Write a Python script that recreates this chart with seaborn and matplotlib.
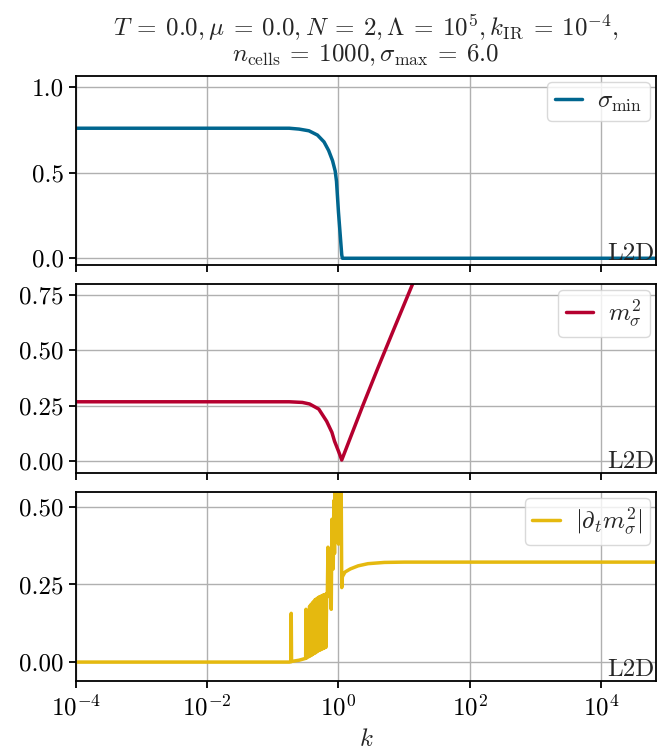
import numpy as np
import matplotlib
matplotlib.use("Agg")
import matplotlib.pyplot as plt
import seaborn as sns

# --- data: log10(k) positions and flow observables -------------------------
logk_sigma = [-4.0, -0.75, -0.60, -0.45, -0.32, -0.22, -0.15, -0.09, -0.05,
              -0.03, 0.0, 0.03, 0.05, 0.06, 4.84]
sigma_min = [0.760, 0.760, 0.755, 0.745, 0.72, 0.68, 0.63, 0.57, 0.51,
             0.45, 0.27, 0.12, 0.02, 0.0, 0.0]

logk_mass = [-4.0, -0.75, -0.55, -0.44, -0.30, -0.18, -0.10, -0.06, 0.0,
             0.05, 0.20, 0.37, 0.60, 0.85, 1.13, 1.25]
m2_sigma = [0.268, 0.268, 0.265, 0.258, 0.235, 0.18, 0.13, 0.09, 0.045,
            0.005, 0.12, 0.25, 0.42, 0.60, 0.80, 0.89]

logk_flow = [-4.0, -0.75, -0.725, -0.72, -0.715, -0.60, -0.50, -0.495, -0.49,
             -0.45, -0.44, -0.43, -0.42, -0.41, -0.40, -0.39, -0.38, -0.37,
             -0.36, -0.35, -0.34, -0.33, -0.32, -0.31, -0.30, -0.29, -0.28,
             -0.27, -0.26, -0.25, -0.24, -0.23, -0.22, -0.21, -0.20, -0.19,
             -0.18, -0.17, -0.16, -0.15, -0.13, -0.11, -0.10, -0.08, -0.07,
             -0.06, -0.05, -0.04, -0.03, -0.02, -0.01, 0.0, 0.015, 0.03, 0.04,
             0.05, 0.06, 0.10, 0.18, 0.30, 0.45, 0.70, 1.0, 4.84]
dt_m2 = [0.0, 0.0, 0.001, 0.157, 0.002, 0.006, 0.012, 0.17, 0.013,
         0.018, 0.18, 0.02, 0.185, 0.022, 0.19, 0.025, 0.195, 0.028,
         0.20, 0.03, 0.203, 0.033, 0.206, 0.036, 0.209, 0.038, 0.211,
         0.04, 0.213, 0.042, 0.215, 0.044, 0.217, 0.046, 0.218, 0.048,
         0.22, 0.21, 0.37, 0.22, 0.30, 0.17, 0.46, 0.30, 0.52,
         0.35, 0.60, 0.40, 0.62, 0.45, 0.60, 0.38, 0.62, 0.45, 0.62,
         0.24, 0.275, 0.29, 0.30, 0.31, 0.317, 0.321, 0.322, 0.322]

x_ticks = [1e-4, 1e-2, 1e0, 1e2, 1e4]

# --- style ------------------------------------------------------------------
FS = 18
sns.set_theme(style="whitegrid")
plt.rcParams.update({
    "font.family": "serif",
    "font.serif": ["cmr10"],
    "mathtext.fontset": "cm",
    "axes.unicode_minus": False,
    "axes.formatter.use_mathtext": True,
    "axes.edgecolor": "black",
    "axes.linewidth": 1.3,
    "xtick.bottom": True,
    "ytick.left": True,
    "xtick.direction": "out",
    "ytick.direction": "out",
    "xtick.major.size": 5,
    "ytick.major.size": 5,
    "xtick.major.width": 1.3,
    "ytick.major.width": 1.3,
    "xtick.major.pad": 5,
    "ytick.major.pad": 4,
    "xtick.color": "black",
    "ytick.color": "black",
    "grid.color": "#b0b0b0",
    "grid.linewidth": 1.0,
    "font.size": FS,
    "xtick.labelsize": FS,
    "ytick.labelsize": FS,
    "legend.fontsize": FS,
    "axes.labelsize": FS,
})

fig, axes = plt.subplots(3, 1, figsize=(6.67, 7.53), dpi=100, sharex=True)
fig.subplots_adjust(left=0.114, right=0.9835, top=0.899, bottom=0.0956,
                    hspace=0.1)

panels = [
    (logk_sigma, sigma_min, "#00668F", r"$\sigma_{\mathrm{min}}$",
     (-0.04, 1.065), [0.0, 0.5, 1.0], "{:.1f}"),
    (logk_mass, m2_sigma, "#B5002F", r"$m_\sigma^2$",
     (-0.054, 0.80), [0.0, 0.25, 0.5, 0.75], "{:.2f}"),
    (logk_flow, dt_m2, "#E5B90F", r"$|\partial_t m_\sigma^2|$",
     (-0.061, 0.548), [0.0, 0.25, 0.5], "{:.2f}"),
]

for ax, (lk, vals, color, label, ylim, yt, fmt) in zip(axes, panels):
    k = np.power(10.0, np.asarray(lk, dtype=float))
    sns.lineplot(x=k, y=vals, ax=ax, color=color, linewidth=2.5,
                 label=label, sort=False, estimator=None)
    ax.set_xscale("log")
    ax.set_xlim(1e-4, 10 ** 4.84)
    ax.set_ylim(*ylim)
    ax.set_yticks(yt)
    ax.set_yticklabels([fmt.format(v) for v in yt])
    ax.set_xticks(x_ticks)
    ax.xaxis.set_minor_locator(matplotlib.ticker.NullLocator())
    ax.grid(True, which="major")
    ax.set_ylabel("")
    leg = ax.legend(loc="upper right", fancybox=True, framealpha=0.8,
                    handlelength=1.1, borderpad=0.3, handletextpad=0.6,
                    borderaxespad=0.25)
    leg.get_frame().set_edgecolor("#d0d0d0")
    ax.text(0.998, 0.0, "L2D", transform=ax.transAxes, ha="right",
            va="bottom", fontsize=FS)
    for s in ax.spines.values():
        s.set_color("black")
        s.set_linewidth(1.3)

axes[-1].set_xlabel(r"$k$", labelpad=6)
axes[0].set_title(r"$T\:=\:0.0, \mu\:=\:0.0, N\:=\:2, \Lambda\:=\:10^5, "
                  r"k_{\mathrm{IR}}\:=\:10^{-4},$" + "\n" +
                  r"$n_{\mathrm{cells}}\:=\:1000, \sigma_{\max}\:=\:6.0$",
                  fontsize=FS, linespacing=0.95, pad=11)

fig.savefig("out.png", dpi=100)
